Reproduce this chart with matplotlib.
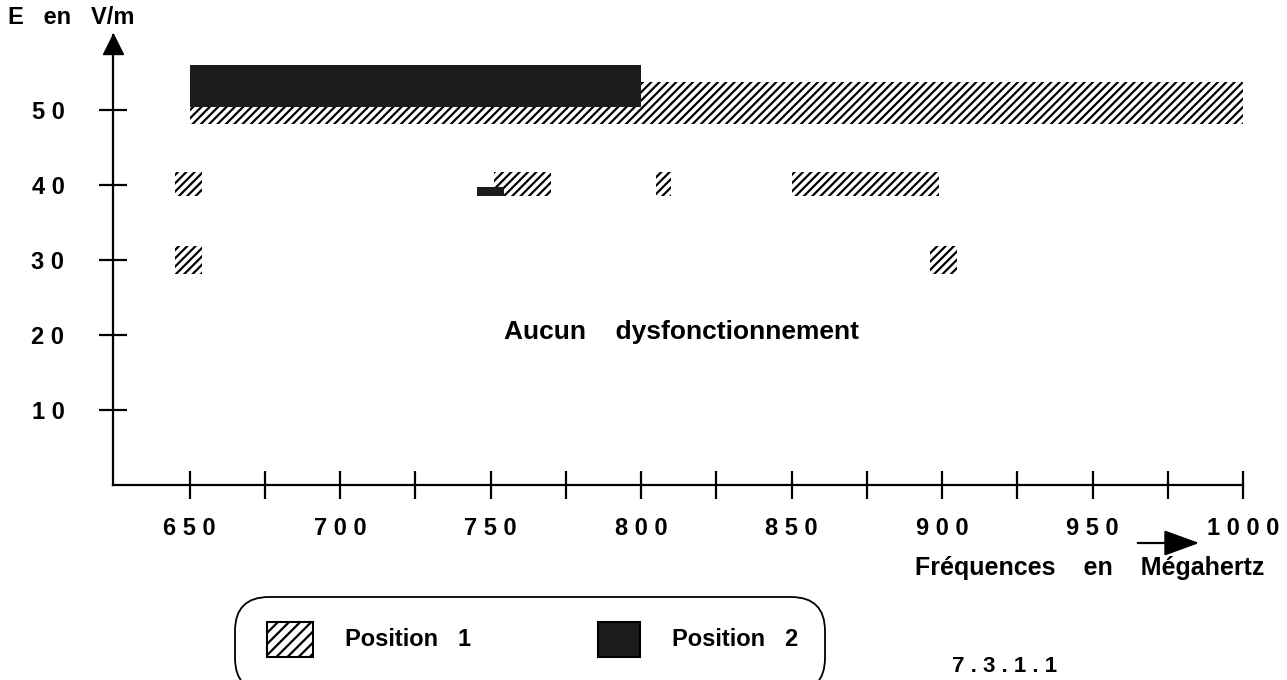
import matplotlib
matplotlib.use("Agg")
import matplotlib.pyplot as plt
import matplotlib.transforms as mtransforms
from matplotlib.patches import FancyBboxPatch, Rectangle

plt.rcParams['font.family'] = ['Liberation Sans', 'DejaVu Sans']
plt.rcParams['hatch.linewidth'] = 1.6

# Position 1 (hatched) ranges: start/end in MHz, low/high in V/m
pos1_start = [650, 645, 751, 805, 850, 645, 896]
pos1_end = [1000, 654, 770, 810, 899, 654, 905]
pos1_low = [48.2, 38.5, 38.5, 38.5, 38.5, 28.1, 28.1]
pos1_high = [53.8, 41.8, 41.8, 41.8, 41.8, 31.9, 31.9]

# Position 2 (black) ranges
pos2_start = [650, 745.5]
pos2_end = [800, 754.5]
pos2_low = [50.4, 38.5]
pos2_high = [56.0, 39.8]

x_major = [650, 700, 750, 800, 850, 900, 950, 1000]
x_labels = ['6 5 0', '7 0 0', '7 5 0', '8 0 0', '8 5 0', '9 0 0', '9 5 0', '1 0 0 0']
x_minor = [675, 725, 775, 825, 875, 925, 975]
y_ticks = [10, 20, 30, 40, 50]
y_labels = ['1 0', '2 0', '3 0', '4 0', '5 0']

W, H = 1287, 680
FS = 17
fig = plt.figure(figsize=(12.87, 6.8), dpi=100)
ax = fig.add_axes([113 / W, (H - 485) / H, (1243 - 113) / W, (485 - 35) / H])
ax.set_xlim(624.5, 1000)
ax.set_ylim(0, 60)

for s, e, lo, hi in zip(pos1_start, pos1_end, pos1_low, pos1_high):
    ax.bar(s, hi - lo, width=e - s, bottom=lo, align='edge',
           facecolor='white', edgecolor='black', hatch='////', linewidth=0)
for s, e, lo, hi in zip(pos2_start, pos2_end, pos2_low, pos2_high):
    ax.bar(s, hi - lo, width=e - s, bottom=lo, align='edge',
           color='#1c1c1c', linewidth=0)

ax.spines['top'].set_visible(False)
ax.spines['right'].set_visible(False)
ax.spines['left'].set_linewidth(1.6)
ax.spines['bottom'].set_linewidth(1.6)

ax.set_xticks(x_major)
ax.set_xticklabels(x_labels)
ax.set_xticks(x_minor, minor=True)
ax.set_yticks(y_ticks)
ax.set_yticklabels(y_labels)
ax.tick_params(axis='both', which='both', direction='inout', length=20, width=1.6)
ax.tick_params(axis='x', pad=13, labelsize=FS)
ax.tick_params(axis='y', pad=25, labelsize=FS)
for lab in ax.get_xticklabels() + ax.get_yticklabels():
    lab.set_fontweight('bold')

# arrow head on y axis
ax.plot([624.5], [58.8], marker='^', markersize=14, color='black', clip_on=False)

ax.text(813.5, 20.4, 'Aucun    dysfonctionnement', ha='center', va='center',
        fontsize=FS + 2, fontweight='bold')

fig.text(8 / W, 1 - 18 / H, 'E   en   V/m', ha='left', va='center',
         fontsize=FS, fontweight='bold')
fig.text(1264 / W, 1 - 568 / H, 'Fréquences    en    Mégahertz', ha='right',
         va='center', fontsize=FS + 1, fontweight='bold')
fig.text(1005 / W, 1 - 667 / H, '7 . 3 . 1 . 1', ha='center', va='center',
         fontsize=FS - 1, fontweight='bold')

ident = mtransforms.IdentityTransform()
fig.patches.append(FancyBboxPatch((235, -12), 590, H - 597 + 12,
                                  boxstyle='round,pad=0,rounding_size=34',
                                  facecolor='none', edgecolor='black',
                                  linewidth=1.3, transform=ident, figure=fig))
fig.patches.append(Rectangle((267, H - 657), 46, 35, facecolor='white',
                             edgecolor='black', hatch='///', linewidth=1.5,
                             transform=ident, figure=fig))
fig.patches.append(Rectangle((598, H - 657), 42, 35, facecolor='#1c1c1c',
                             edgecolor='black', linewidth=1.5,
                             transform=ident, figure=fig))
fig.text(345 / W, 1 - 640 / H, 'Position   1', ha='left', va='center',
         fontsize=FS, fontweight='bold')
fig.text(672 / W, 1 - 640 / H, 'Position   2', ha='left', va='center',
         fontsize=FS, fontweight='bold')

ax.annotate('', xy=(1202 / W, 1 - 543 / H), xytext=(1135 / W, 1 - 543 / H),
            xycoords='figure fraction', textcoords='figure fraction',
            arrowprops=dict(arrowstyle='-|>,head_length=1.1,head_width=0.4',
                            color='black', lw=1.6, mutation_scale=20))

fig.savefig('out.png', dpi=100)
